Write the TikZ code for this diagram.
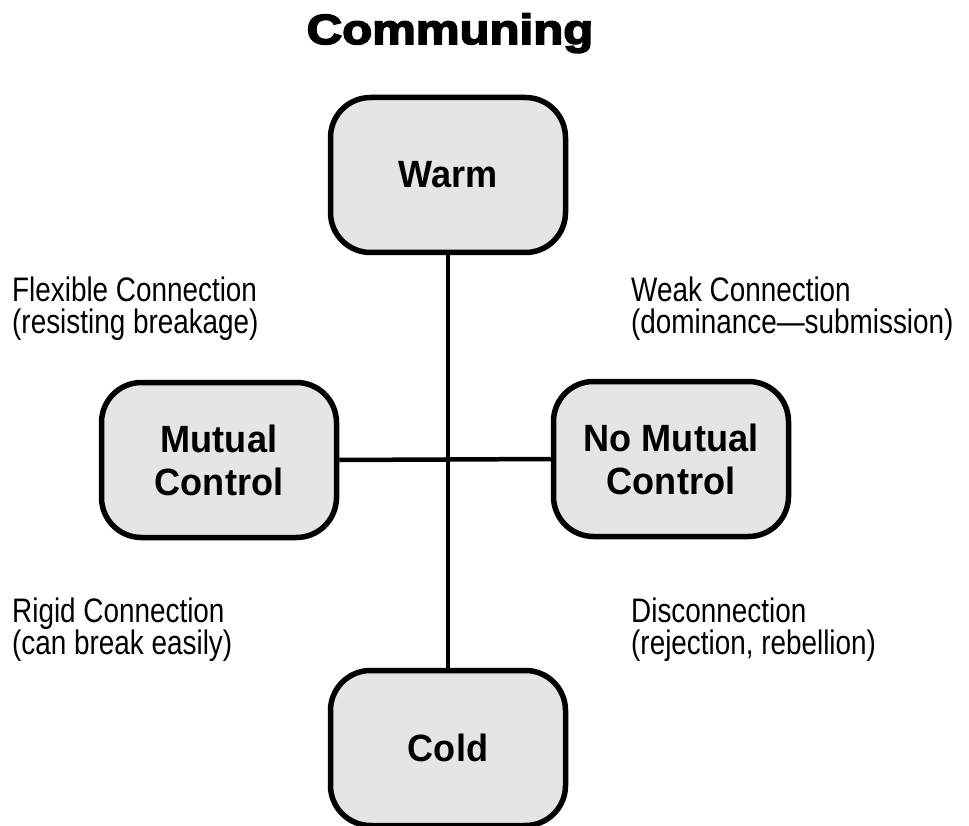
\documentclass[tikz,border=0pt]{standalone}
\usepackage{fontspec}
\setmainfont{Liberation Sans}
\newfontfamily\titlefont[FakeBold=4,FakeStretch=1.17]{Liberation Sans Bold}
\newfontfamily\boxfont[FakeStretch=0.95]{Liberation Sans Bold}
\newfontfamily\notefont[FakeStretch=0.82]{Liberation Sans}
\definecolor{boxgray}{HTML}{E5E5E5}
\begin{document}
\begin{tikzpicture}[x=1pt,y=-1pt,
  state/.style={draw=black, fill=boxgray, line width=5.5pt, rounded corners=40pt,
    minimum width=235pt, minimum height=155pt, align=center,
    font=\boxfont\fontsize{38}{43}\selectfont},
  link/.style={line width=4.5pt},
  note/.style={anchor=base west, align=left, inner sep=0pt,
    font=\notefont\fontsize{34}{32}\selectfont}]
\useasboundingbox (0,0) rectangle (969,826);

% title
\node[anchor=base, inner sep=0pt, font=\titlefont\fontsize{42}{42}\selectfont]
  (title) at (450,44) {Communing};

% the four states
\node[state] (warm) at (448,175) {Warm};
\node[state] (mutual) at (219,460) {Mutual\\Control};
\node[state] (nomutual) at (671,459) {No Mutual\\Control};
\node[state] (cold) at (448,748) {Cold};

% axes joining the states
\draw[link] (warm.south) -- (cold.north);
\draw[link] (mutual.east) -- (nomutual.west);

% quadrant notes (anchored on the baseline of their last line)
\node[note] (flexible) at (12,333) {Flexible Connection\\(resisting breakage)};
\node[note] (weak) at (631,333) {Weak Connection\\(dominance—submission)};
\node[note] (rigid) at (12,654) {Rigid Connection\\(can break easily)};
\node[note] (discon) at (631,654) {Disconnection\\(rejection, rebellion)};
\end{tikzpicture}
\end{document}
